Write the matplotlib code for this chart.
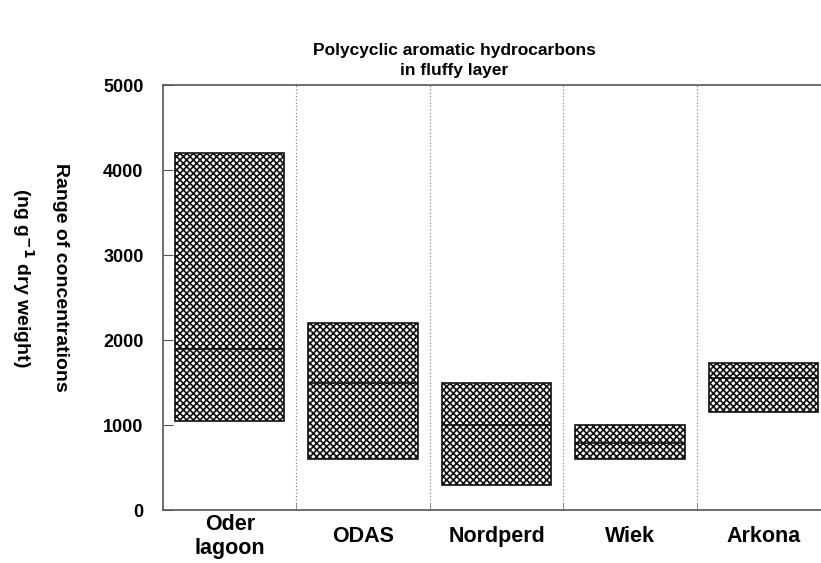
import matplotlib.pyplot as plt
import matplotlib as mpl

sites = ["Oder\nlagoon", "ODAS", "Nordperd", "Wiek", "Arkona"]
low = [1050, 600, 300, 600, 1150]
high = [4200, 2200, 1500, 1000, 1730]
median = [1900, 1500, 1000, 790, 1550]
yticks = [0, 1000, 2000, 3000, 4000, 5000]

plt.rcParams['font.family'] = ['Liberation Sans', 'DejaVu Sans']
mpl.rcParams['hatch.color'] = '#222222'
mpl.rcParams['hatch.linewidth'] = 1.2

fig = plt.figure(figsize=(8.21, 5.63), dpi=100)
ax = fig.add_axes([0.1985, 0.094, 0.813, 0.755])

pos = [i + 0.5 for i in range(len(sites))]
heights = [h - l for h, l in zip(high, low)]
ax.bar(pos, heights, bottom=low, width=0.82, color='white',
       edgecolor='#111111', hatch='xxxxx', linewidth=1.2)
ax.hlines(median, [p - 0.41 for p in pos], [p + 0.41 for p in pos],
          color='#111111', linewidth=1.2)

for s in range(1, len(sites)):
    ax.axvline(s, color='#777777', linestyle=(0, (1, 2)), linewidth=0.8)

ax.set_xlim(0, 5)
ax.set_ylim(0, 5000)
ax.set_yticks(yticks)
ax.set_yticklabels([str(v) for v in yticks], fontsize=13, fontweight='bold')
ax.set_xticks(range(1, 5), minor=True)
ax.set_xticks(pos)
ax.set_xticklabels(sites, fontsize=15.5, fontweight='bold', va='center')
ax.tick_params(axis='x', which='major', length=0, pad=19)
ax.tick_params(axis='x', which='minor', direction='in', length=5, color='#888888')
ax.tick_params(axis='y', direction='in', length=7, color='#555555', pad=14)
for sp in ax.spines.values():
    sp.set_color('#555555')
    sp.set_linewidth(1.2)

fig.text(0.553, 0.862, "Polycyclic aromatic hydrocarbons\nin fluffy layer",
         ha='center', va='bottom', fontsize=12.5, fontweight='bold', linespacing=1.35)
fig.text(0.048, 0.507, "Range of concentrations\n(ng g$^{\\mathbf{-1}}$ dry weight)",
         rotation=-90, ha='center', va='center', fontsize=14, fontweight='bold',
         linespacing=1.85)

fig.savefig("out.png", dpi=100)
